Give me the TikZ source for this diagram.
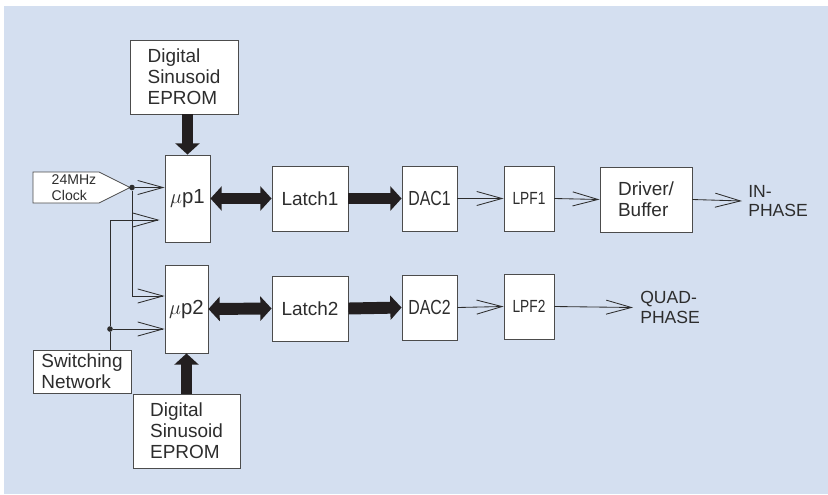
\documentclass[tikz,border=0pt]{standalone}
\usepackage{fontspec}
\setmainfont{Liberation Sans}
\newfontfamily\narrowsans[FakeStretch=0.78]{Liberation Sans}
\usepackage{tikz}
\usetikzlibrary{arrows.meta, calc}

\definecolor{panel}{RGB}{212,223,240}
\definecolor{ink}{RGB}{45,45,45}
\definecolor{heavy}{RGB}{35,31,32}

\begin{document}
\begin{tikzpicture}[
		x=0.025cm, y=-0.025cm,
		block/.style={
			draw=ink!85,
			fill=white,
			line width=0.6pt,
			text=ink,
			align=left,
			inner sep=1pt,
			font=\fontsize{13.5}{15}\selectfont,
			minimum height=1.625cm
		},
		label/.style={
			text=ink,
			align=left,
			inner sep=0pt,
			font=\fontsize{12.5}{14}\selectfont
		},
		junction/.style={
			circle,
			fill=ink,
			inner sep=0pt,
			minimum size=4pt
		},
		sig/.style={
			draw=ink,
			line width=0.6pt,
			-{Straight Barb[length=18pt,width=10pt]}
		},
		wire/.style={draw=ink, line width=0.6pt},
		bus/.style={
			draw=heavy,
			line width=8.5pt,
			-{Triangle[length=8pt,width=17pt]}
		},
		bibus/.style={
			draw=heavy,
			line width=8.5pt,
			{Triangle[length=8pt,width=17pt]}-{Triangle[length=8pt,width=17pt]}
		}
		]
		
		\useasboundingbox (0,0) rectangle (828,494);
		\fill[panel] (4,6) rectangle (828,494);
		
		% Blocks
		\node[block, minimum width=2.7cm, minimum height=1.85cm] at (184,77) (eprom1) {Digital\\Sinusoid\\EPROM};
		\node[block, minimum width=1.125cm, minimum height=2.175cm, font=\fontsize{14.5}{16}\selectfont] at (187.5,198.5) (up1) {$\mu$p1};
		\node[block, minimum width=1.9cm] at (310,198.5) (latch1) {Latch1};
		\node[block, minimum width=1.375cm, font=\narrowsans\fontsize{14.5}{16}\selectfont] at (429.5,198.5) (dac1) {DAC1};
		\node[block, minimum width=1.25cm, font=\narrowsans\fontsize{12.5}{14}\selectfont] at (529,198.5) (lpf1) {LPF1};
		\node[block, minimum width=2.3cm] at (646,199.5) (driver) {Driver/\\Buffer};
		\node[label, anchor=west] at (748,201) (inphase) {IN-\\PHASE};
		
		\node[block, minimum width=1.075cm, minimum height=2.2cm, font=\fontsize{14.5}{16}\selectfont] at (186.5,309) (up2) {$\mu$p2};
		\node[block, minimum width=1.9cm] at (310,308.5) (latch2) {Latch2};
		\node[block, minimum width=1.375cm, font=\narrowsans\fontsize{14.5}{16}\selectfont] at (429.5,307.5) (dac2) {DAC2};
		\node[block, minimum width=1.25cm, font=\narrowsans\fontsize{12.5}{14}\selectfont] at (529,306.5) (lpf2) {LPF2};
		\node[label, anchor=west] at (640,307.5) (quad) {QUAD-\\PHASE};
		\node[block, minimum width=2.675cm, minimum height=1.85cm] at (186.5,431) (eprom2) {Digital\\Sinusoid\\EPROM};
		
		% Clock and switching
		\draw[draw=ink!85, fill=white, line width=0.6pt] (33,172) -- (99,172) -- (130,187.5) -- (99,203) -- (33,203) -- cycle;
		\coordinate (clocktip) at (130,187.5);
		\node[label, font=\fontsize{10}{11.5}\selectfont] at (74,187.5) (clock) {24MHz\\Clock};
		\node[block, minimum width=2.45cm, minimum height=1.075cm] at (82,371.5) (switch) {Switching\\Network};
		\node[junction] at (132,187.5) (dot1) {};
		\node[junction] at (110,329) (dot2) {};
		
		% Clock lines
		\draw[wire] (clocktip) -- (dot1);
		\draw[sig] (dot1) -- (dot1 -| up1.west);
		\draw[sig] (dot1) |- ($(up2.west)+(0,-13)$);
		\draw[wire] (switch.north -| dot2) -- (dot2);
		\draw[sig] (dot2) |- ($(up1.west)+(-5,21.5)$);
		\draw[sig] (dot2) -- (dot2 -| up2.west);
		
		% Buses
		\draw[bus] (eprom1.south -| up1) -- (up1.north);
		\draw[bus] (eprom2.north -| up2) -- (up2.south);
		\draw[bibus] (up1.east) -- (latch1.west);
		\draw[bus] (latch1.east) -- (dac1.west);
		\draw[bibus] (up2.east) -- (latch2.west);
		\draw[bus] (latch2.east) -- (dac2.west);
		
		% Analogue path
		\draw[sig] (dac1.east) -- (lpf1.west);
		\draw[sig] (lpf1.east) -- (driver.west);
		\draw[sig] (driver.east) -- ($(inphase.west)+(-6,0)$);
		\draw[sig] (dac2.east) -- (lpf2.west);
		\draw[sig] (lpf2.east) -- ($(quad.west)+(-7,0)$);
		
	\end{tikzpicture}
\end{document}
